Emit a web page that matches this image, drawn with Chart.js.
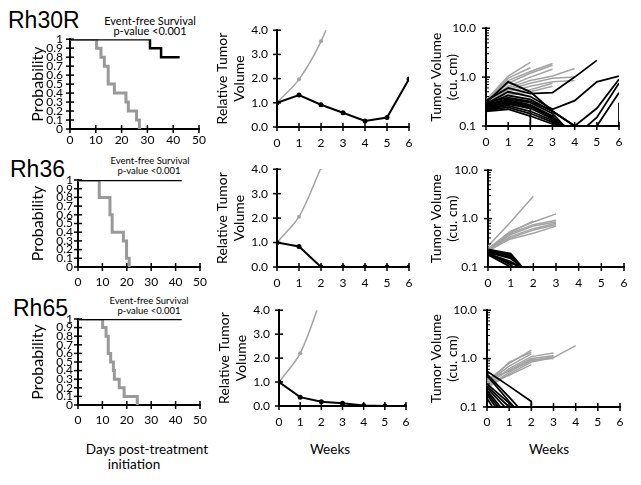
<!DOCTYPE html>
<html>
<head>
<meta charset="utf-8">
<script src="https://cdn.jsdelivr.net/npm/chart.js@4.4.1/dist/chart.umd.min.js"></script>
<style>
  html, body { margin: 0; padding: 0; background: #fff; }
  body { width: 641px; height: 485px; position: relative; overflow: hidden; font-family: Lato, sans-serif; }
  canvas { position: absolute; }
  .t { position: absolute; white-space: nowrap; line-height: 1; color: #000; }
  .c { transform: translateX(-50%); }
  .rh { font-family: "Liberation Sans", Arial, sans-serif; font-size: 23px; }
</style>
</head>
<body>
<div class="t rh" style="left:8px;top:8.5px">Rh30R</div>
<div class="t rh" style="left:10px;top:157.5px">Rh36</div>
<div class="t rh" style="left:13px;top:296.5px">Rh65</div>

<div class="t c" style="left:150px;top:15px;font-size:11px">Event-free Survival</div>
<div class="t c" style="left:150px;top:25px;font-size:11px">p-value &lt;0.001</div>
<div class="t c" style="left:150px;top:156px;font-size:9.5px">Event-free Survival</div>
<div class="t c" style="left:149px;top:166px;font-size:9.5px">p-value &lt;0.001</div>
<div class="t c" style="left:149px;top:296px;font-size:9.5px">Event-free Survival</div>
<div class="t c" style="left:149px;top:306px;font-size:9.5px">p-value &lt;0.001</div>

<div class="t c" style="left:147px;top:443px;font-size:13.5px">Days post-treatment</div>
<div class="t c" style="left:134px;top:458px;font-size:13.5px">initiation</div>
<div class="t c" style="left:330px;top:443px;font-size:13.5px">Weeks</div>
<div class="t c" style="left:549px;top:443px;font-size:13.5px">Weeks</div>

<canvas id="km1"></canvas>
<canvas id="km2"></canvas>
<canvas id="km3"></canvas>
<canvas id="rel1"></canvas>
<canvas id="rel2"></canvas>
<canvas id="rel3"></canvas>
<canvas id="vol1"></canvas>
<canvas id="vol2"></canvas>
<canvas id="vol3"></canvas>

<script>
// Event-free survival (days, probability after each event)
const kmRh30R_ctrlDays = [0, 10.3, 12, 13.3, 14.8, 17.2, 21.7, 22.6, 25.8, 26.9];
const kmRh30R_ctrlSurv = [1, 0.9, 0.8, 0.7, 0.5, 0.4, 0.3, 0.2, 0.1, 0];
const kmRh30R_trtDays = [0, 31, 35.3, 42.5];
const kmRh30R_trtSurv = [1, 0.9, 0.8, 0.8];

const kmRh36_ctrlDays = [0, 8.7, 13.1, 14, 18.6, 19.9, 21];
const kmRh36_ctrlSurv = [1, 0.8, 0.6, 0.4, 0.3, 0.1, 0];
const kmRh36_trtDays = [0, 42.5];
const kmRh36_trtSurv = [1, 1];

const kmRh65_ctrlDays = [0, 10.1, 11.5, 12.4, 13.4, 14.5, 14.9, 16.9, 18.9, 24.3];
const kmRh65_ctrlSurv = [1, 0.9, 0.8, 0.6, 0.5, 0.4, 0.3, 0.2, 0.1, 0];
const kmRh65_trtDays = [0, 42.5];
const kmRh65_trtSurv = [1, 1];

// Relative tumor volume (weeks)
const weeks = [0, 1, 2, 3, 4, 5, 6];
const relRh30R_trt = [1.0, 1.32, 0.92, 0.59, 0.25, 0.39, 1.98];
const relRh30R_ctrl = [1.0, 1.97, 3.54, 5.8];
const relRh36_trt = [1.0, 0.84, 0, 0, 0, 0, 0];
const relRh36_ctrl = [1.0, 2.06, 4.05];
const relRh65_trt = [1.0, 0.37, 0.18, 0.11, 0.02, 0, 0];
const relRh65_ctrl = [1.0, 2.2, 4.5];

// Individual tumor volumes (cu. cm), [week, volume]
const volRh30R_ctrl = [
  [[0, 0.34], [1, 1.05], [2, 2.0]],
  [[0, 0.32], [1, 0.95], [2, 1.55]],
  [[0, 0.33], [1, 0.85], [2, 1.3], [3, 1.9]],
  [[0, 0.3], [1, 0.75], [2, 1.2], [3, 1.75]],
  [[0, 0.3], [1, 0.65], [2, 1.0], [3, 1.45]],
  [[0, 0.28], [1, 0.6], [2, 0.85], [3, 1.05], [4, 1.5]],
  [[0, 0.3], [1, 0.55], [2, 0.75], [3, 0.95], [4, 1.0]],
  [[0, 0.27], [1, 0.5], [2, 0.65], [3, 0.8], [4, 0.85]],
  [[0, 0.29], [1, 0.45], [2, 0.55], [3, 0.75]],
  [[0, 0.26], [1, 0.42], [2, 0.5], [3, 0.65]]
];
const volRh30R_trt = [
  [[0, 0.3], [1, 0.8], [2, 0.5], [3, 0.2], [4, 0.1]],
  [[0, 0.33], [1, 0.6], [2, 0.46], [3, 0.48], [4, 1.0], [5, 2.2]],
  [[0, 0.28], [1, 0.5], [2, 0.4], [3, 0.22], [4, 0.33], [5, 0.8], [6, 1.05]],
  [[0, 0.3], [1, 0.38], [2, 0.32], [3, 0.2], [4, 0.1], [5, 0.23], [6, 0.9]],
  [[0, 0.27], [1, 0.36], [2, 0.3], [3, 0.18], [4, 0.06], [5, 0.15], [6, 0.75]],
  [[0, 0.26], [1, 0.34], [2, 0.27], [3, 0.16], [4, 0.03], [5, 0.1], [6, 0.48]],
  [[0, 0.24], [1, 0.32], [2, 0.26], [3, 0.15], [4, 0.07], [6, 0.01], [6, 0.3]],
  [[0, 0.25], [1, 0.3], [2, 0.25], [3, 0.15], [4, 0.07]],
  [[0, 0.23], [1, 0.28], [2, 0.23], [3, 0.14], [4, 0.06]],
  [[0, 0.22], [1, 0.26], [2, 0.2], [3, 0.13], [4, 0.05]],
  [[0, 0.21], [1, 0.24], [2, 0.18], [3, 0.12], [4, 0.05]],
  [[0, 0.2], [1, 0.22], [2, 0.16], [3, 0.11], [4, 0.04]],
  [[0, 0.22], [1, 0.3], [2, 0.23], [2, 0.01]],
  [[0, 0.28], [1, 0.42], [2, 0.35], [3, 0.2], [4, 0.1]]
];
const volRh36_ctrl = [
  [[0, 0.27], [1, 0.85], [2, 2.9]],
  [[0, 0.24], [1, 0.55], [2, 0.85], [3, 1.25]],
  [[0, 0.23], [1, 0.5], [2, 0.75], [3, 0.92]],
  [[0, 0.22], [1, 0.47], [2, 0.7], [3, 0.85]],
  [[0, 0.22], [1, 0.43], [2, 0.62], [3, 0.8]],
  [[0, 0.21], [1, 0.4], [2, 0.58], [3, 0.75]],
  [[0, 0.23], [1, 0.52], [2, 0.9]],
  [[0, 0.22], [1, 0.38], [2, 0.5], [3, 0.7]]
];
const volRh36_trt = [
  [[0, 0.23], [1, 0.19], [2, 0.053]],
  [[0, 0.22], [1, 0.18], [2, 0.055]],
  [[0, 0.21], [1, 0.17], [2, 0.059]],
  [[0, 0.2], [1, 0.16], [2, 0.062]],
  [[0, 0.2], [1, 0.15], [2, 0.067]],
  [[0, 0.19], [1, 0.13], [2, 0.07]],
  [[0, 0.18], [1, 0.12], [2, 0.08]],
  [[0, 0.2], [1, 0.11], [2, 0.05]],
  [[0, 0.18], [1, 0.1], [2, 0.04]]
];
const volRh65_ctrl = [
  [[0, 0.35], [1, 0.8], [2, 1.5]],
  [[0, 0.3], [1, 0.85], [2, 1.35]],
  [[0, 0.32], [1, 0.7], [2, 1.25]],
  [[0, 0.28], [1, 0.62], [2, 1.1], [3, 1.3]],
  [[0, 0.3], [1, 0.58], [2, 1.0], [3, 1.15]],
  [[0, 0.26], [1, 0.52], [2, 0.95], [3, 1.0]],
  [[0, 0.25], [1, 0.48], [2, 0.85], [3, 1.05], [4, 1.85]],
  [[0, 0.3], [1, 0.45], [2, 0.75]],
  [[0, 0.38], [1, 0.55], [2, 0.9], [3, 1.1]]
];
const volRh65_trt = [
  [[0, 0.55], [1, 0.27], [2, 0.13], [2, 0.01]],
  [[0, 0.48], [1, 0.16], [2, 0.05]],
  [[0, 0.45], [1, 0.13], [2, 0.04]],
  [[0, 0.3], [1, 0.12], [2, 0.04]],
  [[0, 0.27], [1, 0.1], [2, 0.03]],
  [[0, 0.25], [1, 0.08]],
  [[0, 0.22], [1, 0.06]],
  [[0, 0.2], [1, 0.05]],
  [[0, 0.18], [1, 0.04]],
  [[0, 0.15], [1, 0.03]]
];

const BLACK = '#000';
const GREY_KM = '#999999';
const GREY = '#a3a3a3';

Chart.defaults.font.family = 'Lato, sans-serif';
Chart.defaults.color = '#000';

function isDecade(v) {
  const l = Math.log10(v);
  return Math.abs(l - Math.round(l)) < 1e-6;
}

// tick marks crossing the axis line, small inner marks for log minors
const crossTicks = {
  id: 'crossTicks',
  afterDraw(chart) {
    const ctx = chart.ctx;
    ctx.save();
    ctx.strokeStyle = '#000';
    Object.values(chart.scales).forEach(scale => {
      const isLog = scale.type === 'logarithmic';
      scale.ticks.forEach(t => {
        const p = scale.getPixelForValue(t.value);
        ctx.beginPath();
        ctx.lineWidth = 1.5;
        if (scale.isHorizontal()) {
          ctx.moveTo(p, scale.top - 4);
          ctx.lineTo(p, scale.top + 4);
        } else if (!isLog || isDecade(t.value)) {
          ctx.moveTo(scale.right - 4, p);
          ctx.lineTo(scale.right + 4, p);
        } else {
          ctx.lineWidth = 1;
          ctx.moveTo(scale.right, p);
          ctx.lineTo(scale.right + 3, p);
        }
        ctx.stroke();
      });
    });
    ctx.restore();
  }
};

function toPoints(xs, ys) {
  return xs.map((x, i) => ({ x: x, y: ys[i] }));
}
function pairPoints(list) {
  return list.map(p => ({ x: p[0], y: p[1] }));
}

function makePanel(id, box, xOpts, yOpts, datasets) {
  const padT = 10, padR = 12, padB = 2, xh = 24;
  const canvas = document.getElementById(id);
  const left = box.L - box.yw;
  const top = box.T - padT;
  canvas.width = box.R - left + padR;
  canvas.height = box.B - box.T + padT + xh + padB;
  canvas.style.left = left + 'px';
  canvas.style.top = top + 'px';

  const axisBase = {
    grid: { display: false, drawTicks: true, tickLength: 4 },
    border: { display: true, color: '#000', width: 2 }
  };
  new Chart(canvas, {
    type: 'line',
    data: { datasets: datasets },
    options: {
      responsive: false,
      animation: false,
      events: [],
      layout: { autoPadding: false, padding: { top: padT, right: padR, bottom: padB, left: 0 } },
      plugins: { legend: { display: false }, tooltip: { enabled: false } },
      scales: {
        x: Object.assign({ type: 'linear', position: 'bottom',
          afterFit: s => { s.height = xh; } }, axisBase, xOpts),
        y: Object.assign({ position: 'left',
          afterFit: s => { s.width = box.yw; } }, axisBase, yOpts)
      }
    },
    plugins: [crossTicks]
  });
}

function kmPanel(id, box, xpad, ypad, ctrlDays, ctrlSurv, trtDays, trtSurv) {
  makePanel(id, box,
    { min: 0, max: 50, ticks: { stepSize: 10, padding: xpad, font: { size: 12 } } },
    { type: 'linear', min: 0, max: 1,
      ticks: { stepSize: 0.1, autoSkip: false, padding: ypad, font: { size: 12 },
        callback: v => String(Math.round(v * 10) / 10) },
      title: { display: true, text: 'Probability', padding: 0, font: { size: 16 } } },
    [
      { data: toPoints(trtDays, trtSurv), stepped: 'before', borderColor: BLACK,
        borderWidth: 2.5, pointRadius: 0, fill: false },
      { data: toPoints(ctrlDays, ctrlSurv), stepped: 'before', borderColor: GREY_KM,
        borderWidth: 3, pointRadius: 0, fill: false }
    ]);
}

function relPanel(id, box, trt, ctrl) {
  makePanel(id, box,
    { min: 0, max: 6, ticks: { stepSize: 1, padding: 5, font: { size: 12 } } },
    { type: 'linear', min: 0, max: 4,
      ticks: { stepSize: 1, padding: 5, font: { size: 12 }, callback: v => v.toFixed(1) },
      title: { display: true, text: ['Relative Tumor', 'Volume'], padding: 0,
        font: { size: 14, lineHeight: 1.2 } } },
    [
      { data: toPoints(weeks.slice(0, trt.length), trt), borderColor: BLACK, borderWidth: 2,
        pointRadius: 2.5, pointBackgroundColor: BLACK, pointBorderWidth: 0, fill: false },
      { data: toPoints(weeks.slice(0, ctrl.length), ctrl), borderColor: GREY, borderWidth: 1.5,
        tension: 0.3, pointRadius: 2, pointBackgroundColor: GREY, pointBorderWidth: 0, fill: false }
    ]);
}

function volPanel(id, box, xpad, trt, ctrl) {
  const sets = [];
  trt.forEach(m => sets.push({ data: pairPoints(m), borderColor: BLACK, borderWidth: 1.8,
    pointRadius: 0, fill: false }));
  ctrl.forEach(m => sets.push({ data: pairPoints(m), borderColor: GREY, borderWidth: 1.5,
    pointRadius: 0, fill: false }));
  makePanel(id, box,
    { min: 0, max: 6, ticks: { stepSize: 1, padding: xpad, font: { size: 12 } } },
    { type: 'logarithmic', min: 0.1, max: 10,
      ticks: { autoSkip: false, padding: 6, font: { size: 12 },
        callback: v => isDecade(v) ? v.toFixed(1) : '' },
      title: { display: true, text: ['Tumor Volume', '(cu. cm)'], padding: 0,
        font: { size: 14, lineHeight: 1.1 } } },
    sets);
}

kmPanel('km1', { L: 70, T: 39, R: 199, B: 129, yw: 42 }, 0, 3,
  kmRh30R_ctrlDays, kmRh30R_ctrlSurv, kmRh30R_trtDays, kmRh30R_trtSurv);
kmPanel('km2', { L: 78, T: 180, R: 200, B: 267, yw: 50 }, 4, 1,
  kmRh36_ctrlDays, kmRh36_ctrlSurv, kmRh36_trtDays, kmRh36_trtSurv);
kmPanel('km3', { L: 78, T: 319, R: 200, B: 405, yw: 50 }, 4, 1,
  kmRh65_ctrlDays, kmRh65_ctrlSurv, kmRh65_trtDays, kmRh65_trtSurv);

relPanel('rel1', { L: 277, T: 28, R: 409, B: 127, yw: 63 }, relRh30R_trt, relRh30R_ctrl);
relPanel('rel2', { L: 277, T: 167, R: 409, B: 267, yw: 63 }, relRh36_trt, relRh36_ctrl);
relPanel('rel3', { L: 279, T: 308, R: 406, B: 406, yw: 63 }, relRh65_trt, relRh65_ctrl);

volPanel('vol1', { L: 486, T: 25, R: 619, B: 126, yw: 57 }, 5, volRh30R_trt, volRh30R_ctrl);
volPanel('vol2', { L: 488, T: 167, R: 624, B: 267, yw: 59 }, 5, volRh36_trt, volRh36_ctrl);
volPanel('vol3', { L: 487, T: 307, R: 620, B: 407, yw: 58 }, 4, volRh65_trt, volRh65_ctrl);
</script>
</body>
</html>
